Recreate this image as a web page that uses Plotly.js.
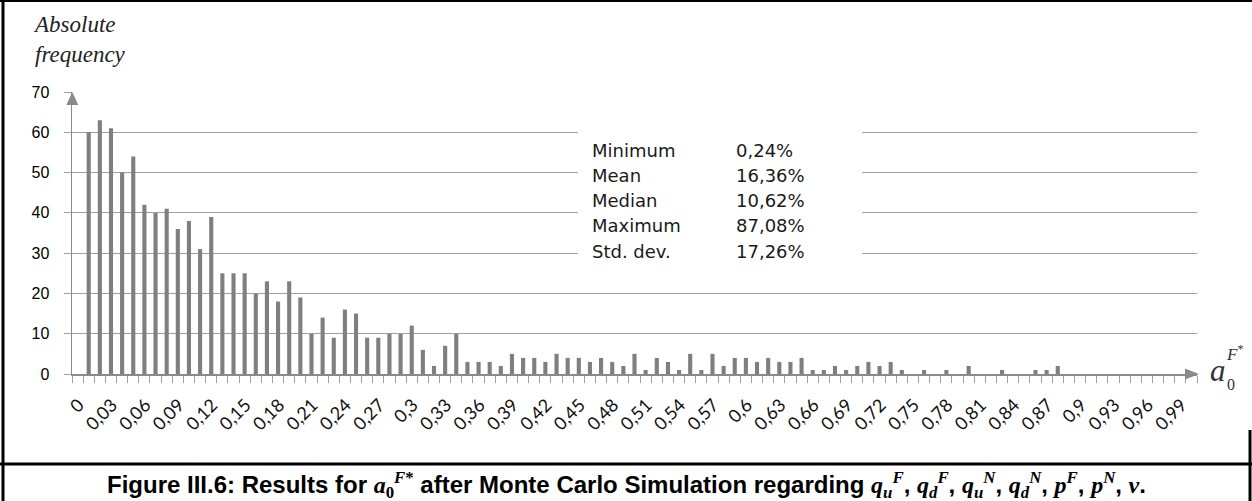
<!DOCTYPE html>
<html>
<head>
<meta charset="utf-8">
<script src="https://cdn.plot.ly/plotly-3.0.1.min.js"></script>
<style>html,body{margin:0;padding:0;background:#fff;}#chart{width:1252px;height:501px;}</style>
</head>
<body>
<div id="chart"></div>
<script>
// Bin lower bounds (a0F* value classes)
const bins = [0,0.01,0.02,0.03,0.04,0.05,0.06,0.07,0.08,0.09,
  0.10,0.11,0.12,0.13,0.14,0.15,0.16,0.17,0.18,0.19,
  0.20,0.21,0.22,0.23,0.24,0.25,0.26,0.27,0.28,0.29,
  0.30,0.31,0.32,0.33,0.34,0.35,0.36,0.37,0.38,0.39,
  0.40,0.41,0.42,0.43,0.44,0.45,0.46,0.47,0.48,0.49,
  0.50,0.51,0.52,0.53,0.54,0.55,0.56,0.57,0.58,0.59,
  0.60,0.61,0.62,0.63,0.64,0.65,0.66,0.67,0.68,0.69,
  0.70,0.71,0.72,0.73,0.74,0.75,0.76,0.77,0.78,0.79,
  0.80,0.81,0.82,0.83,0.84,0.85,0.86,0.87,0.88,0.89,
  0.90,0.91,0.92,0.93,0.94,0.95,0.96,0.97,0.98,0.99];

// Absolute frequency per bin
const frequency = [60,63,61,50,54,42,40,41,36,38,
  31,39,25,25,25,20,23,18,23,19,
  10,14,9,16,15,9,9,10,10,12,
  6,2,7,10,3,3,3,2,5,4,
  4,3,5,4,4,3,4,3,2,5,
  1,4,3,1,5,1,5,2,4,4,
  3,4,3,3,4,1,1,2,1,2,
  3,2,3,1,0,1,0,1,0,2,
  0,0,1,0,0,1,1,2,0,0,
  0,0,0,0,0,0,0,0,0,0];

// X tick labels
const tickValues = [0,0.03,0.06,0.09,0.12,0.15,0.18,0.21,0.24,0.27,0.30,0.33,0.36,0.39,0.42,0.45,0.48,0.51,0.54,0.57,0.60,0.63,0.66,0.69,0.72,0.75,0.78,0.81,0.84,0.87,0.90,0.93,0.96,0.99];
const tickLabels = ["0","0,03","0,06","0,09","0,12","0,15","0,18","0,21","0,24","0,27","0,3","0,33","0,36","0,39","0,42","0,45","0,48","0,51","0,54","0,57","0,6","0,63","0,66","0,69","0,72","0,75","0,78","0,81","0,84","0,87","0,9","0,93","0,96","0,99"];

// Summary statistics
const statNames = ["Minimum","Mean","Median","Maximum","Std. dev."];
const statValues = ["0,24%","16,36%","10,62%","87,08%","17,26%"];

// Layout geometry (pixels)
const W = 1252, H = 501;
const L = 72, R = 1197, T = 92, B = 374;
const PW = R - L, PH = B - T;
const px = x => (x - L) / PW;
const py = y => (B - y) / PH;

const GRID = '#a0a0a0', AXIS = '#8a8a8a', BAR = '#7f7f7f';

const trace = {
  type: 'bar', x: bins, y: frequency,
  marker: {color: BAR, line: {width: 0}},
  hoverinfo: 'skip'
};

const shapes = [];
// arrow heads
shapes.push({type:'path', xref:'paper', yref:'paper',
  path:`M ${px(72.3)},${py(92)} L ${px(66.3)},${py(105)} L ${px(78.3)},${py(105)} Z`,
  fillcolor: AXIS, line:{width:0}, layer:'above'});
shapes.push({type:'path', xref:'paper', yref:'paper',
  path:`M ${px(1199)},${py(374)} L ${px(1185)},${py(368.5)} L ${px(1185)},${py(379.5)} Z`,
  fillcolor: AXIS, line:{width:0}, layer:'above'});
// white box behind stats
shapes.push({type:'rect', xref:'paper', yref:'paper',
  x0:px(578), x1:px(862), y0:py(262), y1:py(126),
  fillcolor:'#ffffff', line:{width:0}, layer:'above'});
// frame lines
shapes.push({type:'line', xref:'paper', yref:'paper', x0:px(0), x1:px(1252), y0:py(1), y1:py(1), line:{color:'#000', width:2}});
shapes.push({type:'line', xref:'paper', yref:'paper', x0:px(3), x1:px(3), y0:py(0), y1:py(501), line:{color:'#000', width:3}});
shapes.push({type:'line', xref:'paper', yref:'paper', x0:px(0), x1:px(1252), y0:py(464), y1:py(464), line:{color:'#000', width:3}});
shapes.push({type:'line', xref:'paper', yref:'paper', x0:px(1250), x1:px(1250), y0:py(430), y1:py(501), line:{color:'#000', width:3}});

const annotations = [];
const statFont = {family:'DejaVu Sans, Verdana, sans-serif', size:18, color:'#1a1a1a'};
statNames.forEach((n, i) => {
  const yc = 150 + i * 25.3;
  annotations.push({xref:'paper', yref:'paper', x:px(590), y:py(yc), xanchor:'left', yanchor:'middle',
    text:n, showarrow:false, font:statFont});
  annotations.push({xref:'paper', yref:'paper', x:px(734), y:py(yc), xanchor:'left', yanchor:'middle',
    text:statValues[i], showarrow:false, font:statFont});
});
// y axis title
annotations.push({xref:'paper', yref:'paper', x:px(31), y:py(10), xanchor:'left', yanchor:'top', align:'left',
  text:'Absolute<br>frequency', showarrow:false,
  font:{family:'Liberation Serif, serif', size:23, style:'italic', color:'#222'}});
// x axis symbol a0F*
annotations.push({xref:'paper', yref:'paper', x:px(1208), y:py(370), xanchor:'left', yanchor:'middle',
  text:'<i>a</i>', showarrow:false, font:{family:'Liberation Serif, serif', size:31, color:'#333'}});
annotations.push({xref:'paper', yref:'paper', x:px(1225), y:py(384), xanchor:'left', yanchor:'middle',
  text:'0', showarrow:false, font:{family:'Liberation Serif, serif', size:16, color:'#333'}});
annotations.push({xref:'paper', yref:'paper', x:px(1224), y:py(353), xanchor:'left', yanchor:'middle',
  text:'<i>F</i><sup>*</sup>', showarrow:false, font:{family:'Liberation Serif, serif', size:17, color:'#333'}});
// caption
const m = s => `<span style="font-family:'Liberation Serif',serif">${s}</span>`;
const sym = (b, sub, sup) => m(`<i>${b}</i><sub><i>${sub}</i></sub><sup><i>${sup}</i></sup>`);
const caption = 'Figure III.6: Results for ' + m('<i>a</i><sub>0</sub><sup><i>F</i>*</sup>') +
  ' after Monte Carlo Simulation regarding ' +
  sym('q','u','F') + ', ' + sym('q','d','F') + ', ' + sym('q','u','N') + ', ' + sym('q','d','N') + ', ' +
  m('<i>p</i><sup><i>F</i></sup>') + ', ' + m('<i>p</i><sup><i>N</i></sup>') + ', ' + m('<i>v</i>') + '.';
annotations.push({xref:'paper', yref:'paper', x:px(626), y:py(485), xanchor:'center', yanchor:'middle',
  text:caption, showarrow:false,
  font:{family:'Liberation Sans Narrow, Liberation Sans, Arial, sans-serif', size:24, weight:'bold', color:'#000'}});

const layout = {
  width: W, height: H,
  margin: {l: L, r: W - R, t: T, b: H - B, pad: 0},
  paper_bgcolor: '#fff', plot_bgcolor: '#fff',
  showlegend: false,
  bargap: 0.63,
  xaxis: {
    type: 'linear', range: [-0.015, 0.995], fixedrange: true,
    showgrid: false, zeroline: false,
    showline: true, linecolor: AXIS, linewidth: 1.5,
    tickmode: 'array', tickvals: tickValues, ticktext: tickLabels,
    ticks: '', tickangle: -45, ticklabelshift: -10, ticklabelstandoff: 12,
    tickfont: {family: 'Lato, Open Sans, sans-serif', size: 18, color: '#111'},
    minor: {ticks: 'outside', ticklen: 7, tickcolor: GRID, tickwidth: 1, tick0: -0.005, dtick: 0.01, showgrid: false}
  },
  yaxis: {
    range: [0, 70], dtick: 10, fixedrange: true,
    showgrid: true, gridcolor: GRID, gridwidth: 1,
    zeroline: false, showline: true, linecolor: AXIS, linewidth: 1.5,
    ticks: 'outside', ticklen: 7, tickcolor: GRID,
    ticklabelstandoff: 11,
    tickfont: {family: 'Liberation Sans, Arial, sans-serif', size: 16, color: '#000'}
  },
  shapes: shapes,
  annotations: annotations
};

Plotly.newPlot('chart', [trace], layout, {staticPlot: true, displayModeBar: false});
</script>
</body>
</html>
